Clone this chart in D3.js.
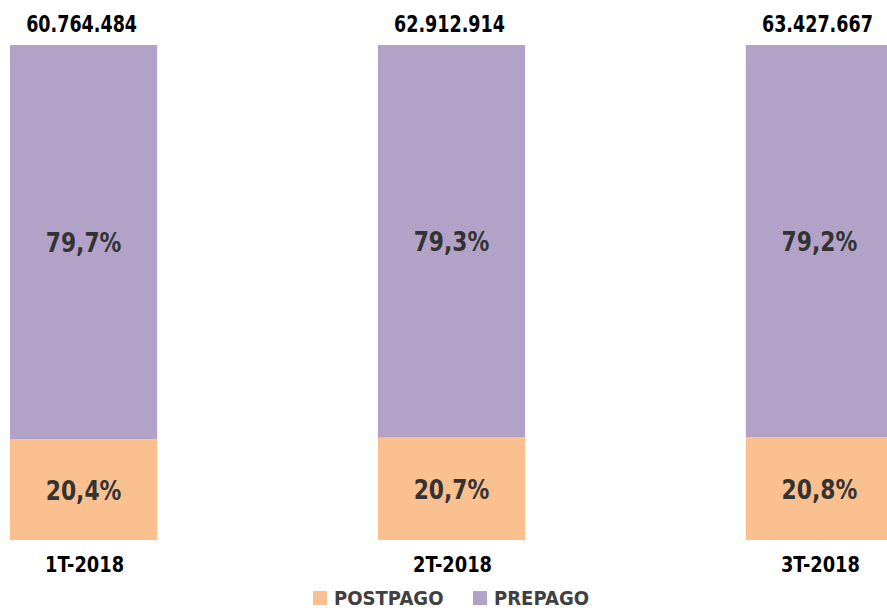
<!DOCTYPE html>
<head>
  <meta charset="utf-8">
  <script src="https://d3js.org/d3.v7.min.js"></script>
<style>
    body {
        margin: 0;
        background: #fff;
    }
    svg text {
        font-family: "DejaVu Sans", Verdana, sans-serif;
        font-weight: bold;
    }
</style>
</head>

<body>
  <script>

var quarters = ["1T-2018", "2T-2018", "3T-2018"];
var totals = ["60.764.484", "62.912.914", "63.427.667"];
var postpago = [20.4, 20.7, 20.8];
var prepago = [79.7, 79.3, 79.2];
var seriesNames = ["POSTPAGO", "PREPAGO"];
var colors = ["#fac090", "#b3a2c7"];

var width = 887;
var height = 610;

var svg = d3.select("body")
    .append("svg")
    .attr("width", width)
    .attr("height", height);

var rows = quarters.map(function (q, i) {
    return { quarter: q, POSTPAGO: postpago[i], PREPAGO: prepago[i] };
});

var stack = d3.stack()
    .keys(seriesNames)
    .offset(d3.stackOffsetExpand);

var stacked = stack(rows);

var x = d3.scaleBand()
    .domain(quarters)
    .range([10, 893])
    .paddingInner(0.6)
    .paddingOuter(0);

var y = d3.scaleLinear()
    .domain([0, 1])
    .range([540, 45]);

var color = d3.scaleOrdinal()
    .domain(seriesNames)
    .range(colors);

var layers = svg.selectAll("g.layer")
    .data(stacked)
    .enter()
    .append("g")
    .attr("class", "layer")
    .attr("fill", function (d) { return color(d.key); });

layers.selectAll("rect")
    .data(function (d) { return d; })
    .enter()
    .append("rect")
    .attr("x", function (d) { return x(d.data.quarter); })
    .attr("width", x.bandwidth())
    .attr("y", function (d) { return y(d[1]); })
    .attr("height", function (d) { return y(d[0]) - y(d[1]); });

// squeezed text, the original font is narrower
function squeezed(sel, sx) {
    sel.attr("transform", function (d) {
        return "translate(" + d.tx + "," + d.ty + ") scale(" + sx + ",1)";
    });
}

// percentage labels inside bars
layers.selectAll("text")
    .data(function (d) {
        return d.map(function (v) {
            return {
                label: d3.format(".1f")(v.data[d.key]).replace(".", ","),
                tx: x(v.data.quarter) + x.bandwidth() / 2,
                ty: (y(v[0]) + y(v[1])) / 2 + 10
            };
        });
    })
    .enter()
    .append("text")
    .attr("text-anchor", "middle")
    .attr("fill", "#333333")
    .style("font-size", "26px")
    .text(function (d) { return d.label + "%"; })
    .call(squeezed, 0.84);

// totals above bars
svg.selectAll("text.total")
    .data(quarters.map(function (q, i) {
        return { label: totals[i], tx: x(q) + x.bandwidth() / 2 - 2, ty: 32 };
    }))
    .enter()
    .append("text")
    .attr("class", "total")
    .attr("text-anchor", "middle")
    .attr("fill", "#000")
    .style("font-size", "22.5px")
    .text(function (d) { return d.label; })
    .call(squeezed, 0.78);

// category axis labels
svg.selectAll("text.cat")
    .data(quarters.map(function (q) {
        return { label: q, tx: x(q) + x.bandwidth() / 2 + 1, ty: 572 };
    }))
    .enter()
    .append("text")
    .attr("class", "cat")
    .attr("text-anchor", "middle")
    .attr("fill", "#000")
    .style("font-size", "20.5px")
    .text(function (d) { return d.label; })
    .call(squeezed, 0.87);

// legend
var legendX = [313, 473];

var legend = svg.selectAll("g.legend")
    .data(seriesNames)
    .enter()
    .append("g")
    .attr("class", "legend")
    .attr("transform", function (d, i) { return "translate(" + legendX[i] + ",591)"; });

legend.append("rect")
    .attr("width", 14)
    .attr("height", 14)
    .attr("fill", function (d) { return color(d); });

legend.append("text")
    .datum(function (d) { return { label: d, tx: 21, ty: 14 }; })
    .attr("fill", "#404040")
    .style("font-size", "19px")
    .text(function (d) { return d.label; })
    .call(squeezed, 0.95);

  </script>
</body>
